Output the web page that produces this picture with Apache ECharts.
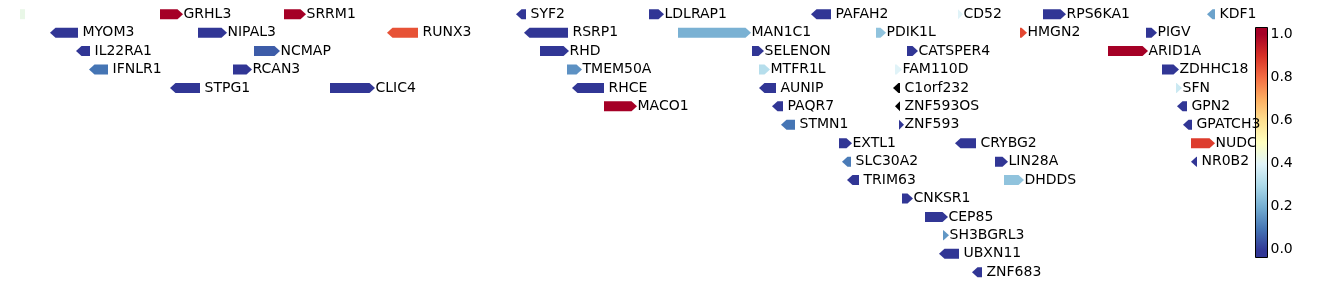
<!DOCTYPE html>
<html>
<head>
<meta charset="utf-8">
<script src="https://cdn.jsdelivr.net/npm/echarts@6/dist/echarts.min.js"></script>
<style>html,body{margin:0;padding:0;background:#fff}#c{width:1338px;height:285px}</style>
</head>
<body>
<div id="c"></div>
<script>
// Gene track data (positions in kb on chr1)
const geneNames = ['', 'GRHL3','SRRM1','SYF2','LDLRAP1','PAFAH2','CD52','RPS6KA1','KDF1',
'MYOM3','NIPAL3','RUNX3','RSRP1','MAN1C1','PDIK1L','HMGN2','PIGV',
'IL22RA1','NCMAP','RHD','SELENON','CATSPER4','ARID1A',
'IFNLR1','RCAN3','TMEM50A','MTFR1L','FAM110D','ZDHHC18',
'STPG1','CLIC4','RHCE','AUNIP','C1orf232','SFN',
'MACO1','PAQR7','ZNF593OS','GPN2',
'STMN1','ZNF593','GPATCH3',
'EXTL1','CRYBG2','NUDC',
'SLC30A2','LIN28A','NR0B2',
'TRIM63','DHDDS',
'CNKSR1','CEP85','SH3BGRL3','UBXN11','ZNF683'];
const geneStart = [23970,24320,24630,25210,25542.5,25947.5,26315,26527.5,26937.5,
24045,24415,24887.5,25230,25615,26110,26470,26785,
24110,24555,25270,25800,26187.5,26690,
24142.5,24502.5,25337.5,25817.5,26157.5,26825,
24345,24745,25350,25817.5,26152.5,26860,
25430,25850,26157.5,26862.5,
25872.5,26167.5,26877.5,
26017.5,26307.5,26897.5,
26025,26407.5,26897.5,
26037.5,26430,
26175,26232.5,26277.5,26267.5,26350];
const geneEnd = [23982.5,24377.5,24685,25235,25580,25997.5,26327.5,26585,26957.5,
24115,24487.5,24965,25340,25797.5,26135,26487.5,26812.5,
24145,24620,25342.5,25830,26215,26790,
24190,24550,25375,25845,26175,26867.5,
24420,24857.5,25430,25860,26170,26875,
25512.5,25877.5,26170,26887.5,
25907.5,26180,26900,
26050,26360,26957.5,
26047.5,26440,26912.5,
26067.5,26480,
26202.5,26290,26292.5,26317.5,26375];
const geneRow = [0,0,0,0,0,0,0,0,0,
1,1,1,1,1,1,1,1,
2,2,2,2,2,2,
3,3,3,3,3,3,
4,4,4,4,4,4,
5,5,5,5,
6,6,6,
7,7,7,
8,8,8,
9,9,
10,11,12,13,14];
// strand: 1 forward, -1 reverse, 0 unknown
const geneStrand = [0,1,1,-1,1,-1,1,1,-1,
-1,1,-1,-1,1,1,1,1,
-1,1,1,1,1,1,
-1,1,1,1,1,1,
-1,1,-1,-1,-1,1,
1,-1,-1,-1,
-1,1,-1,
1,-1,1,
-1,1,-1,
-1,1,
1,1,1,-1,-1];
const geneValue = [0.43,1,1,0,0,0,0.4,0,0.18,
0,0,0.845,0,0.21,0.25,0.86,0,
0,0.06,0,0,0,1,
0.1,0,0.15,0.32,0.4,0,
0,0,0,0,null,0.36,
1,0,null,0,
0.1,0,0,
0,0,0.88,
0.11,0,0,
0,0.25,
0,0,0.16,0,0];
const colorbarTicks = [0, 0.2, 0.4, 0.6, 0.8, 1.0];
const cmap = ['#313695','#4575b4','#74add1','#abd9e9','#e0f3f8','#ffffbf','#fee090','#fdae61','#f46d43','#d73027','#a50026'];
const barMin = -0.033, barMax = 1.033;

const geneData = geneNames.map((n, i) => [geneStart[i], geneEnd[i], geneRow[i], geneStrand[i], geneValue[i] == null ? NaN : geneValue[i]]);

const FONT = 'DejaVu Sans';
function renderGene(params, api) {
  const s = api.coord([api.value(0), api.value(2)]);
  const e = api.coord([api.value(1), api.value(2)]);
  const strand = api.value(3);
  const v = api.value(4);
  const h = 10, y = s[1];
  const x0 = s[0], x1 = e[0];
  const head = Math.min(5.5, x1 - x0);
  let pts;
  if (strand > 0) pts = [[x0, y - h/2], [x1 - head, y - h/2], [x1, y], [x1 - head, y + h/2], [x0, y + h/2]];
  else if (strand < 0) pts = [[x1, y - h/2], [x0 + head, y - h/2], [x0, y], [x0 + head, y + h/2], [x1, y + h/2]];
  else pts = [[x0, y - h/2], [x1, y - h/2], [x1, y + h/2], [x0, y + h/2]];
  const color = (v == null || isNaN(v)) ? '#000000' : api.visual('color');
  const name = geneNames[params.dataIndex];
  return {
    type: 'group',
    children: [
      { type: 'polygon', shape: { points: pts }, style: { fill: color, stroke: null } },
      { type: 'text', style: { text: name, x: strand > 0 ? x1 + 0.5 : x1 + 4.5, y: y, fill: '#000', font: '14px "' + FONT + '"', verticalAlign: 'middle', align: 'left' } }
    ]
  };
}
function renderBar(params, api) {
  const top = api.coord([0, api.value(2)]);
  const bot = api.coord([0, api.value(1)]);
  const cs = params.coordSys;
  const lo = api.value(1), hi = api.value(2);
  const stops = cmap.map((c, i) => ({ offset: Math.min(1, Math.max(0, (i / (cmap.length - 1) - lo) / (hi - lo))), color: c }));
  return {
    type: 'rect',
    shape: { x: cs.x + 0.5, y: Math.round(top[1]) + 0.5, width: cs.width, height: Math.round(bot[1]) - Math.round(top[1]) },
    style: { fill: { type: 'linear', x: 0, y: 1, x2: 0, y2: 0, colorStops: stops }, stroke: '#000', lineWidth: 1 }
  };
}

const chart = echarts.init(document.getElementById('c'), null, { renderer: 'canvas' });
chart.setOption({
  animation: false,
  backgroundColor: '#ffffff',
  grid: [
    { left: 0, right: 0, top: 5, height: 276.4 },
    { left: 1255, top: 34.5, width: 12, height: 215 }
  ],
  xAxis: [
    { type: 'value', gridIndex: 0, min: 23920, max: 27265, show: false },
    { type: 'value', gridIndex: 1, min: 0, max: 1, show: false }
  ],
  yAxis: [
    { type: 'value', gridIndex: 0, min: -0.5, max: 14.5, inverse: true, show: false },
    { type: 'value', gridIndex: 1, min: 0, max: 1, interval: 0.2, position: 'right',
      axisLine: { show: false }, splitLine: { show: false },
      axisTick: { show: true, length: 4, lineStyle: { color: '#000', width: 1 } },
      axisLabel: { show: true, margin: 3.5, color: '#000', fontSize: 14, fontFamily: FONT,
        formatter: v => (colorbarTicks.some(t => Math.abs(t - v) < 1e-9) ? v.toFixed(1) : '') } }
  ],
  visualMap: {
    type: 'continuous', show: false, seriesIndex: 0, dimension: 4,
    min: 0, max: 1, inRange: { color: cmap }
  },
  series: [
    { type: 'custom', xAxisIndex: 0, yAxisIndex: 0, renderItem: renderGene, data: geneData, clip: false, silent: true },
    { type: 'custom', xAxisIndex: 1, yAxisIndex: 1, renderItem: renderBar, data: [[0, barMin, barMax]], clip: false, silent: true, z: 1 }
  ]
});
</script>
</body>
</html>
